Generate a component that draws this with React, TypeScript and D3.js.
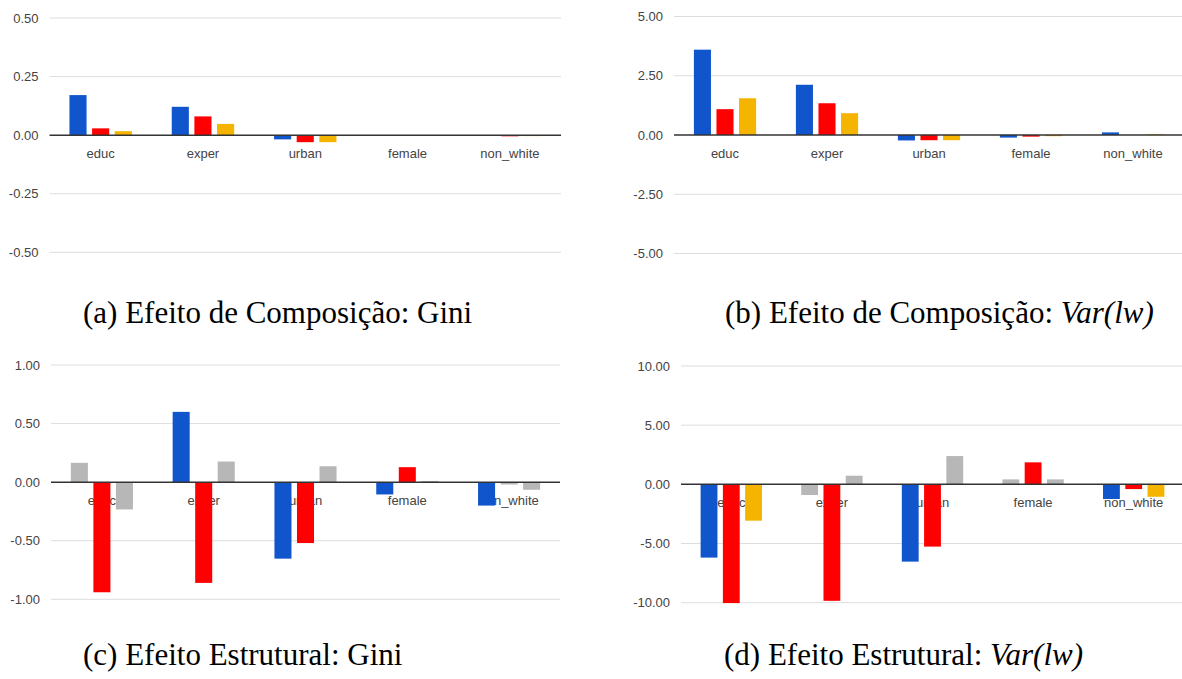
import React from "react";
import * as d3 from "d3";

const categories = ["educ", "exper", "urban", "female", "non_white"];

// values per category: [series1, series2, series3]
const compGini = [
  [0.171, 0.029, 0.017],
  [0.121, 0.08, 0.048],
  [-0.018, -0.03, -0.03],
  [0, 0, 0],
  [0, -0.005, -0.004],
];
const compVar = [
  [3.6, 1.09, 1.55],
  [2.12, 1.34, 0.92],
  [-0.23, -0.22, -0.22],
  [-0.11, -0.07, -0.05],
  [0.11, 0, 0.03],
];
const estGini = [
  [0.165, -0.94, -0.233],
  [0.6, -0.86, 0.176],
  [-0.653, -0.52, 0.136],
  [-0.105, 0.128, 0.01],
  [-0.2, -0.02, -0.065],
];
const estVar = [
  [-6.19, -10.03, -3.07],
  [-0.9, -9.84, 0.73],
  [-6.53, -5.26, 2.39],
  [0.42, 1.86, 0.42],
  [-1.24, -0.4, -1.05],
];

// significance flags (1 = coloured, 0 = grey)
const sigCompGini = [[1, 1, 1], [1, 1, 1], [1, 1, 1], [1, 1, 1], [1, 1, 1]];
const sigCompVar = [[1, 1, 1], [1, 1, 1], [1, 1, 1], [1, 1, 1], [1, 1, 1]];
const sigEstGini = [[0, 1, 0], [1, 1, 0], [1, 1, 0], [1, 1, 0], [1, 0, 0]];
const sigEstVar = [[1, 1, 1], [0, 1, 0], [1, 1, 0], [0, 1, 0], [1, 1, 1]];

const ticksCompGini = [-0.5, -0.25, 0, 0.25, 0.5];
const ticksCompVar = [-5, -2.5, 0, 2.5, 5];
const ticksEstGini = [-1, -0.5, 0, 0.5, 1];
const ticksEstVar = [-10, -5, 0, 5, 10];

const captionA = "(a) Efeito de Composição: Gini";
const captionBPlain = "(b) Efeito de Composição: ";
const captionC = "(c) Efeito Estrutural: Gini";
const captionDPlain = "(d) Efeito Estrutural: ";
const captionItalic = "Var(lw)";

const seriesColors = ["#1155cc", "#ff0000", "#f4b400"];
const greyColor = "#b7b7b7";

const locale = d3.formatLocale({
  decimal: ".",
  thousands: ",",
  grouping: [3],
  currency: ["", ""],
  minus: "-",
});

type PanelProps = {
  values: number[][];
  sig: number[][];
  ticks: number[];
  x0: number;
  x1: number;
  yTop: number;
  yBottom: number;
};

function Panel({ values, sig, ticks, x0, x1, yTop, yBottom }: PanelProps) {
  const ext = d3.extent(ticks) as [number, number];
  const y = d3.scaleLinear().domain(ext).range([yBottom, yTop]);
  const xb = d3.scaleBand<string>().domain(categories).range([x0, x1]).padding(0);
  const groupW = xb.bandwidth() * 0.61;
  const xi = d3
    .scaleBand<number>()
    .domain([0, 1, 2])
    .range([0, groupW])
    .paddingInner(0.244)
    .paddingOuter(0);
  const fmt = locale.format(".2f");
  const y0 = y(0);
  return (
    <g>
      {ticks.map((t) => (
        <g key={t}>
          {t !== 0 && (
            <line x1={x0} x2={x1} y1={y(t)} y2={y(t)} stroke="#dddddd" strokeWidth={1} />
          )}
          <text
            x={x0 - 11}
            y={y(t)}
            dy="0.35em"
            textAnchor="end"
            fontFamily="'Liberation Sans', Arial, sans-serif"
            fontSize={13}
            fill="#444"
          >
            {fmt(t)}
          </text>
        </g>
      ))}
      {categories.map((c) => (
        <text
          key={c}
          x={(xb(c) as number) + xb.bandwidth() / 2}
          y={y0 + 22.5}
          textAnchor="middle"
          fontFamily="'Liberation Sans', Arial, sans-serif"
          fontSize={13}
          fill="#444"
        >
          {c}
        </text>
      ))}
      {categories.map((c, ci) => {
        const gx = (xb(c) as number) + (xb.bandwidth() - groupW) / 2;
        return values[ci].map((v, si) => {
          const yv = y(v);
          return (
            <rect
              key={c + si}
              x={gx + (xi(si) as number)}
              width={xi.bandwidth()}
              y={Math.min(yv, y0)}
              height={Math.abs(yv - y0)}
              fill={sig[ci][si] ? seriesColors[si] : greyColor}
            />
          );
        });
      })}
      <line x1={x0} x2={x1} y1={y0} y2={y0} stroke="#333" strokeWidth={1.5} />
    </g>
  );
}

const captionStyle = {
  fontFamily: "'Liberation Serif', 'Times New Roman', serif",
  fontSize: 31,
  fill: "#000",
};

export default function App() {
  return (
    <svg
      width={1182}
      height={679}
      style={{ position: "absolute", left: 0, top: 0, background: "#fff" }}
    >
      <rect x={0} y={0} width={1182} height={679} fill="#fff" />
      <Panel values={compGini} sig={sigCompGini} ticks={ticksCompGini} x0={49.5} x1={561} yTop={18} yBottom={252.3} />
      <Panel values={compVar} sig={sigCompVar} ticks={ticksCompVar} x0={674} x1={1184} yTop={16.5} yBottom={253.5} />
      <Panel values={estGini} sig={sigEstGini} ticks={ticksEstGini} x0={51} x1={560} yTop={365} yBottom={599.3} />
      <Panel values={estVar} sig={sigEstVar} ticks={ticksEstVar} x0={681} x1={1184} yTop={366} yBottom={602.7} />
      <text x={83} y={323} {...captionStyle}>{captionA}</text>
      <text x={725} y={323} {...captionStyle}>
        {captionBPlain}
        <tspan fontStyle="italic">{captionItalic}</tspan>
      </text>
      <text x={83} y={665} {...captionStyle}>{captionC}</text>
      <text x={724} y={665} {...captionStyle}>
        {captionDPlain}
        <tspan fontStyle="italic">{captionItalic}</tspan>
      </text>
    </svg>
  );
}
